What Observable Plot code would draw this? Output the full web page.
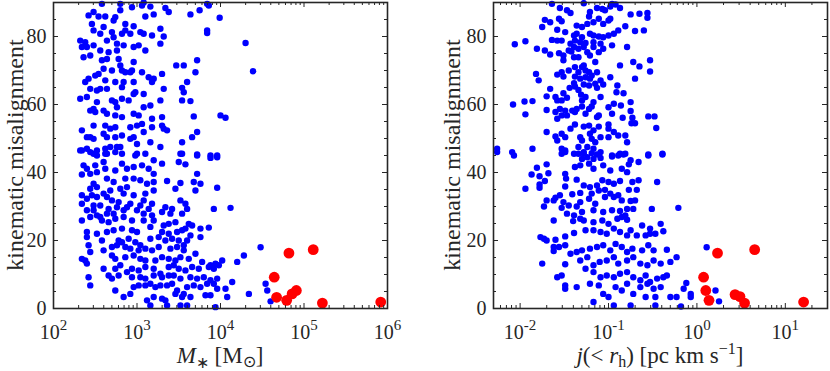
<!DOCTYPE html>
<html><head><meta charset="utf-8">
<script src="https://cdn.jsdelivr.net/npm/d3@7"></script>
<script src="https://cdn.jsdelivr.net/npm/@observablehq/plot@0.6"></script>
<style>
html,body{margin:0;padding:0;background:#fff;}
#wrap{position:relative;width:830px;height:371px;overflow:hidden;background:#fff;}
#wrap svg{position:absolute;top:0;}
</style></head><body><div id="wrap"></div>
<script>
// Left panel blue points: [log10(M* / Msun), kinematic misalignment (deg)]
const massBlue = [
[2.58,89.6],[2.80,89.6],[2.94,88.6],[3.06,89.1],[3.08,90],[3.16,88.8],[3.34,88.4],[3.38,87.2],[3.64,86.5],[3.75,87.7],[3.84,89.6],[3.86,89.1],[3.99,85.5],[2.48,87.2],[2.42,86.2],[2.54,85.9],[2.62,85.9],[2.74,85.7],[2.72,84.7],[2.80,87.7],[3.10,85.9],[3.20,86.5],[2.86,83.7],[2.96,83.0],[2.86,81.8],[2.82,80.8],[2.92,80.8],[3.04,81.3],[3.08,80.8],[3.18,80.3],[3.28,82.3],[3.32,80.0],[3.28,77.9],[3.10,75.9],[3.02,77.4],[2.96,76.9],[2.84,77.4],[2.76,77.9],[2.64,78.8],[2.56,80.8],[2.48,81.8],[2.46,83.7],[2.60,82.8],[2.70,81.3],[2.72,79.8],[2.32,78.8],[2.38,78.3],[2.34,76.9],[2.40,76.9],[2.48,77.4],[2.56,75.9],[2.66,75.4],[2.76,75.9],[2.44,74.4],[2.36,73.9],[2.58,73.0],[2.64,73.4],[2.78,73.4],[2.80,71.5],[2.96,72.5],[2.82,70.0],[2.70,70.0],[2.60,70.5],[2.54,69.0],[2.50,68.5],[2.42,67.6],[2.38,66.6],[2.62,67.1],[2.74,66.6],[2.86,69.5],[2.92,69.5],[2.94,70.0],[3.06,69.5],[3.14,68.0],[3.20,67.6],[3.18,66.6],[3.30,69.0],[2.84,66.6],[2.96,66.6],[2.82,65.1],[2.64,64.6],[2.56,64.6],[2.52,64.1],[2.44,64.6],[2.98,63.6],[3.08,63.1],[3.32,64.6],[2.96,63.1],[2.70,61.2],[2.74,60.7],[2.82,61.7],[2.90,61.2],[2.32,61.7],[2.40,62.2],[2.52,60.7],[2.48,58.7],[2.44,58.2],[2.50,57.8],[2.60,58.2],[2.64,57.3],[2.76,59.2],[2.74,56.8],[2.82,56.3],[2.96,57.3],[3.02,56.8],[3.08,59.2],[3.16,59.7],[3.28,61.2],[3.18,55.8],[3.06,54.3],[3.00,53.8],[2.92,53.3],[2.74,53.3],[2.68,52.9],[2.62,53.8],[2.48,53.8],[2.34,52.4],[2.40,50.4],[2.44,50.4],[2.48,49.9],[2.60,51.4],[2.64,50.4],[2.74,50.4],[2.82,50.9],[2.92,49.9],[2.96,50.4],[3.08,51.9],[3.18,53.3],[3.30,53.8],[3.32,52.9],[3.36,52.4],[3.30,56.3],[3.16,48.9],[3.00,48.4],[2.80,47.5],[2.76,47.5],[2.68,47.5],[2.62,47.0],[2.52,46.5],[2.40,47.0],[2.32,46.5],[3.28,47.5],[3.47,71.5],[3.56,71.5],[3.72,73.0],[3.70,69.5],[3.60,66.6],[3.54,64.9],[3.56,63.6],[3.54,61.2],[3.64,61.0],[3.68,56.5],[4.00,56.8],[4.06,56.1],[3.54,48.9],[3.66,50.4],[3.72,51.9],[4.30,78.1],[4.39,69.8],[3.84,81.8],[3.84,81.0],[3.54,45.5],[3.72,45.3],[3.88,45.0],[3.96,45.0],[3.00,45.5],[2.48,45.5],[2.62,45.5],
[2.34,46.5],[2.44,46.0],[2.52,45.0],[2.64,45.5],[2.74,46.0],[2.82,45.5],[2.98,45.0],[3.10,45.5],[3.20,43.6],[3.30,42.6],[3.52,45.5],[3.50,43.1],[3.58,42.4],[3.72,45.0],[3.88,44.3],[3.96,44.5],[2.36,42.1],[2.40,41.1],[2.50,42.1],[2.60,43.1],[2.52,40.1],[2.44,39.6],[2.62,41.1],[2.74,40.6],[2.82,42.6],[2.88,41.1],[2.96,41.6],[3.06,42.1],[3.14,41.1],[3.20,39.6],[2.34,39.4],[2.64,38.2],[2.72,37.2],[2.86,38.2],[2.96,38.2],[3.04,37.7],[3.12,36.7],[3.20,37.2],[3.36,37.5],[3.46,35.2],[3.52,36.9],[3.68,37.2],[3.76,36.7],[3.72,39.6],[3.70,34.7],[3.96,35.5],[2.48,36.7],[2.44,35.2],[2.52,35.7],[2.60,33.8],[2.68,34.7],[2.80,35.2],[2.88,35.7],[2.84,33.8],[2.78,31.3],[2.96,33.3],[3.10,33.8],[3.20,34.7],[3.18,30.8],[3.08,31.8],[2.34,33.3],[2.40,32.3],[2.46,33.3],[2.52,32.8],[2.64,32.8],[2.70,31.8],[2.34,30.8],[2.48,30.3],[2.56,30.3],[2.66,29.3],[2.76,29.8],[2.88,29.8],[2.92,30.8],[3.04,30.3],[3.14,29.3],[3.34,29.8],[3.42,29.3],[3.52,31.8],[3.58,30.8],[3.60,29.3],[3.92,29.3],[4.12,29.6],[2.40,28.9],[2.48,28.9],[2.52,27.4],[2.44,26.9],[2.56,26.9],[2.64,27.9],[2.72,27.9],[2.84,28.9],[3.00,28.9],[3.08,27.9],[3.18,27.4],[3.30,28.4],[3.40,27.9],[3.54,27.9],[2.34,25.9],[2.58,25.9],[2.66,25.4],[2.74,26.4],[2.84,26.9],[2.94,25.9],[3.08,25.9],[3.20,25.9],[3.32,24.4],[3.38,24.9],[3.46,25.4],[3.62,24.9],[3.66,24.4],[3.58,23.5],[3.76,23.5],[3.86,23.8],[2.40,22.5],[2.52,22.0],[2.64,22.5],[2.72,23.0],[2.82,23.5],[2.94,23.0],[3.00,22.5],[3.16,24.0],[3.30,22.5],[3.38,22.0],[3.48,22.5],[3.54,23.0],[3.64,21.5],[3.76,21.0],[2.40,21.0],[2.58,20.0],[2.78,20.0],[2.82,19.5],[2.90,20.5],[2.98,19.5],[3.04,18.6],[3.16,20.5],[3.26,21.0],[3.34,20.0],[3.42,20.5],[3.50,20.0],[3.56,18.6],[3.60,20.0],[2.42,18.6],[2.60,17.1],[2.70,18.1],[2.76,18.6],[2.86,18.1],[2.92,17.6],[3.02,17.1],[3.10,17.6],[3.18,17.1],[3.26,18.1],[3.40,17.6],[3.48,18.1],[3.56,17.1],[3.70,16.1],[2.44,16.6],[2.34,14.6],[2.38,14.1],[2.70,15.6],[2.74,14.6],[2.86,15.1],[2.96,15.6],[3.04,14.6],[3.10,14.1],[3.22,14.1],[3.30,15.1],[3.38,14.6],[3.46,14.1],[3.52,15.1],[3.62,14.6],[3.78,13.7],[3.88,12.7],[3.94,13.2],[4.02,14.1],[4.20,13.7],[4.28,15.6],[2.40,13.2],[2.60,11.7],[2.66,9.7],[2.74,11.7],[2.80,12.7],[2.88,10.7],[2.94,11.7],[3.02,11.2],[3.10,12.2],[3.20,11.7],[3.28,10.2],[3.38,12.2],[3.44,12.7],[3.50,11.7],[3.58,11.2],[3.66,12.2],[3.74,11.7],[3.86,12.2],[3.92,11.7],[3.98,12.7],[2.42,9.2],[2.44,6.8],[2.70,8.8],[2.78,9.7],[2.94,9.2],[3.04,9.2],[3.10,8.8],[3.20,9.7],[3.30,9.2],[3.38,9.7],[3.44,9.7],[3.52,8.8],[3.64,9.2],[3.72,8.8],[3.80,9.2],[3.88,8.3],[3.96,8.8],[4.14,7.8],[2.74,5.3],[2.84,3.4],[2.92,4.3],[2.96,6.3],[3.02,6.8],[3.10,6.8],[3.16,7.3],[3.22,6.3],[3.28,6.8],[3.36,6.8],[3.42,7.3],[3.48,5.3],[3.56,4.3],[3.60,6.3],[3.68,6.8],[3.76,6.3],[3.84,7.3],[3.92,7.3],[3.96,5.8],[4.06,5.8],[3.46,4.3],[3.54,3.4],[3.64,3.4],[3.82,3.9],[3.88,3.9],[4.08,3.4],[3.12,2.4],[3.20,3.4],[3.34,2.4],[3.36,0.9],[3.52,0.9],[3.60,0.9],[3.94,0.4],[3.16,0.9],[4.34,4.3],[3.30,2.9],
[4.48,18.0],[4.54,7.3],[4.56,5.3],[4.60,2.1]
];
// Left panel red points: [M* (Msun), misalignment (deg)]
const massRed = [[4.4e4,9.2],[4.7e4,3.3],[6.2e4,2.4],[6.6e4,16.3],[7.2e4,4.3],[8.1e4,5.3],[1.29e5,17.3],[1.66e5,1.6],[8.3e5,1.9]];

// Right panel blue points: [log10(j / pc km s^-1), misalignment (deg)]
const jBlue = [
[-1.64,89.6],[-1.55,88.4],[-1.47,87.7],[-1.43,86.9],[-1.28,89.8],[-1.21,87.2],[-1.22,85.9],[-1.13,88.4],[-1.07,88.1],[-1.04,87.7],[-0.98,88.8],[-0.96,89.6],[-0.92,89.4],[-0.87,88.4],[-0.75,86.5],[-0.65,86.7],[-0.56,86.9],[-0.56,85.5],[-1.72,84.9],[-1.66,84.2],[-1.56,85.2],[-1.53,84.5],[-1.75,82.8],[-1.58,82.0],[-1.49,81.3],[-1.36,83.2],[-1.30,82.8],[-1.24,83.7],[-1.17,84.2],[-1.11,85.2],[-1.06,83.7],[-1.00,84.7],[-0.98,85.2],[-0.81,83.0],[-0.70,81.6],[-0.60,81.8],[-1.36,80.8],[-1.30,79.8],[-1.21,80.8],[-1.17,80.3],[-1.11,80.0],[-1.06,79.8],[-1.00,80.3],[-0.94,80.8],[-0.89,81.8],[-1.39,80.3],[-1.64,79.0],[-1.58,78.8],[-1.53,78.8],[-1.43,77.9],[-1.38,78.8],[-1.32,78.3],[-1.26,78.1],[-1.17,78.3],[-1.09,77.9],[-0.96,77.4],[-1.45,75.9],[-1.39,76.9],[-1.34,76.4],[-1.28,76.9],[-1.17,76.9],[-1.06,76.4],[-1.11,75.4],[-1.21,74.4],[-1.15,72.5],[-1.81,76.4],[-1.72,75.9],[-1.66,74.7],[-1.56,75.1],[-1.51,74.4],[-1.51,73.0],[-1.42,75.6],[-1.39,73.9],[-1.34,73.9],[-1.24,75.4],[-0.79,76.9],[-2.06,77.7],[-1.94,78.6],[-0.87,71.5],[-0.72,72.5],[-0.65,71.2],[-0.53,73.0],[-0.53,69.7],[-0.70,67.6],[-1.82,69.0],[-1.79,67.1],[-1.58,68.8],[-1.53,69.5],[-1.51,68.2],[-1.45,70.0],[-1.38,71.0],[-1.34,69.5],[-1.30,71.0],[-1.28,71.5],[-1.26,70.0],[-1.22,69.5],[-1.19,68.5],[-1.13,69.5],[-1.38,68.2],[-1.32,67.6],[-1.26,68.0],[-1.21,67.6],[-1.09,67.1],[-0.98,68.0],[-1.39,66.3],[-1.44,64.9],[-1.38,65.3],[-1.34,64.3],[-1.28,65.9],[-1.22,65.6],[-1.15,66.1],[-1.13,64.9],[-1.06,65.9],[-0.90,65.6],[-0.91,63.6],[-0.83,63.3],[-1.66,64.6],[-1.51,63.3],[-1.31,62.9],[-1.26,62.2],[-1.30,61.2],[-1.60,62.2],[-1.58,61.2],[-1.70,62.4],[-1.53,61.2],[-1.47,62.0],[-1.09,62.2],[-1.17,60.7],[-1.30,59.4],[-1.36,58.7],[-1.41,58.2],[-1.49,58.2],[-1.55,58.7],[-1.60,57.8],[-1.58,55.8],[-1.53,56.8],[-1.47,56.8],[-1.38,57.8],[-1.26,57.3],[-1.22,58.7],[-1.19,59.4],[-1.00,59.2],[-0.94,60.2],[-0.86,59.7],[-0.75,60.7],[-0.96,57.3],[-1.11,56.8],[-1.13,56.3],[-0.75,58.1],[-0.84,56.1],[-0.73,56.1],[-0.74,54.5],[-0.70,54.5],[-0.55,56.5],[-0.48,56.5],[-0.46,53.1],[-2.08,60.0],[-1.95,60.9],[-1.86,61.0],[-1.94,57.1],[-1.70,58.4],[-1.38,54.1],[-1.28,53.5],[-1.22,53.8],[-1.11,53.5],[-1.17,52.4],[-1.00,54.1],[-1.00,52.9],[-0.94,51.9],[-0.89,50.9],[-0.81,50.9],[-0.79,48.9],[-1.70,51.9],[-1.60,50.6],[-1.58,49.4],[-1.53,51.4],[-1.49,50.4],[-1.43,52.9],[-1.32,50.4],[-1.30,49.4],[-1.21,51.4],[-1.19,49.9],[-1.15,48.9],[-1.09,50.4],[-1.00,50.4],[-1.24,47.5],[-1.34,47.5],[-1.17,47.0],[-1.09,46.0],[-1.53,47.0],[-1.49,46.0],[-2.26,47.0],[-2.09,46.0],[-1.86,47.0],[-0.87,45.5],[-0.81,45.5],[-0.55,45.3],[-0.39,45.5],[-0.96,45.0],[-1.28,45.5],[-1.39,45.5],
[-2.26,46.0],[-2.07,45.0],[-1.53,45.5],[-1.49,46.5],[-1.34,45.5],[-1.28,46.0],[-1.19,45.7],[-1.13,45.3],[-1.30,44.0],[-1.24,44.5],[-1.17,44.0],[-1.09,44.3],[-0.96,44.7],[-0.89,45.0],[-0.83,45.3],[-0.75,43.6],[-0.66,43.1],[-0.55,45.0],[-0.39,45.3],[-1.81,41.4],[-1.70,42.4],[-1.87,39.4],[-1.78,38.9],[-1.68,39.8],[-1.49,39.6],[-1.48,38.2],[-1.38,41.6],[-1.32,42.1],[-1.22,42.6],[-1.17,41.1],[-1.06,42.1],[-0.98,40.6],[-0.85,41.1],[-0.79,40.1],[-0.77,42.4],[-1.72,37.5],[-1.78,36.5],[-1.78,35.5],[-1.94,35.2],[-1.49,35.9],[-1.36,37.9],[-1.28,36.2],[-1.21,35.7],[-1.13,36.2],[-1.07,37.7],[-1.00,37.2],[-0.94,36.7],[-0.87,37.5],[-0.73,37.2],[-0.66,37.7],[-0.45,37.2],[-0.77,34.9],[-0.68,34.9],[-1.70,31.8],[-1.62,31.8],[-1.60,32.6],[-1.55,33.3],[-1.51,31.3],[-1.41,33.6],[-1.32,34.0],[-1.19,33.8],[-1.11,34.7],[-1.04,34.9],[-0.98,33.8],[-0.89,33.3],[-1.73,30.0],[-1.53,29.6],[-1.45,30.3],[-1.36,30.0],[-1.32,31.3],[-1.22,32.3],[-1.15,30.8],[-1.04,32.8],[-0.94,32.8],[-0.85,31.8],[-0.75,31.6],[-0.70,31.8],[-0.79,29.3],[-0.72,29.3],[-0.51,29.3],[-0.21,29.6],[-1.47,27.9],[-1.39,27.4],[-1.30,28.4],[-1.17,28.9],[-1.06,28.4],[-0.96,28.9],[-0.87,28.7],[-0.81,27.4],[-1.62,25.9],[-1.40,25.7],[-1.32,26.4],[-1.28,25.9],[-1.17,25.4],[-1.07,25.9],[-1.00,24.9],[-0.90,26.4],[-0.85,26.9],[-0.79,26.1],[-0.62,24.4],[-0.53,23.5],[-0.41,24.9],[-1.77,21.0],[-1.73,20.5],[-1.70,20.0],[-1.60,20.2],[-1.49,21.2],[-1.39,22.2],[-1.26,23.0],[-1.17,23.0],[-1.09,22.5],[-1.02,22.0],[-0.94,23.5],[-0.87,22.5],[-0.79,21.5],[-0.75,23.0],[-0.68,21.5],[-0.58,21.5],[-0.53,22.0],[-0.47,22.0],[-1.62,18.1],[-1.62,16.9],[-1.56,18.1],[-1.49,18.6],[-1.43,16.1],[-1.36,16.6],[-1.30,17.1],[-1.21,17.6],[-1.13,18.1],[-1.06,18.6],[-0.98,17.1],[-0.92,19.0],[-0.85,18.1],[-0.79,16.6],[-0.73,17.6],[-0.62,17.1],[-0.55,18.6],[-0.49,17.1],[-0.34,17.3],[-1.75,13.2],[-1.49,13.0],[-1.32,14.1],[-1.24,15.1],[-1.17,12.7],[-1.10,13.7],[-1.02,14.1],[-0.94,15.1],[-0.89,13.2],[-0.79,14.1],[-0.72,15.1],[-0.64,13.2],[-0.56,12.7],[-0.49,14.1],[-0.41,13.2],[-0.30,13.7],[-0.23,15.1],[-1.58,9.2],[-1.53,9.7],[-1.49,6.8],[-1.49,5.8],[-1.36,6.3],[-1.26,11.7],[-1.17,10.7],[-1.09,9.2],[-1.02,9.7],[-0.94,9.2],[-0.87,10.2],[-0.79,10.7],[-0.72,9.2],[-0.64,8.3],[-0.58,9.7],[-0.53,7.8],[-0.45,8.8],[-0.38,9.2],[-0.34,9.7],[-1.21,7.3],[-1.11,6.8],[-1.06,4.3],[-1.00,3.4],[-0.92,6.3],[-0.85,5.3],[-0.79,7.3],[-0.72,4.3],[-0.64,6.3],[-0.56,7.3],[-0.49,5.8],[-0.41,6.3],[-0.30,3.4],[-0.23,3.4],[-0.15,5.8],[-0.12,7.5],[-0.07,4.3],[-1.17,1.9],[-0.94,0.9],[-0.75,0.9],[-0.58,3.4],[-0.47,3.4],[-0.47,0.9],[-0.18,0.6],[-0.07,3.4],
[0.11,18.0],[0.21,5.3],[0.25,2.1],[-0.38,22.7]
];
// Right panel red points: [j (pc km s^-1), misalignment (deg)]
const jRed = [[1.19,9.2],[1.26,5.3],[1.37,2.4],[1.71,16.3],[2.7,4.1],[3.07,3.5],[3.46,1.6],[4.5,17.3],[16.1,1.9]];

// Axis settings
const massDomain = [1e2, 1e6];
const jDomain = [0.005, 30];
const massDecades = [1e2, 1e3, 1e4, 1e5, 1e6];
const jDecades = [1e-2, 1e-1, 1e0, 1e1];
const yTickLabels = [0, 20, 40, 60, 80];
const yLabelText = "kinematic misalignment";

const FONT = "Liberation Serif, Times New Roman, serif";
const INK = "#262626";

function minorTicks(domain) {
  const out = [];
  for (let e = Math.floor(Math.log10(domain[0])); e <= Math.ceil(Math.log10(domain[1])); e++) {
    for (let k = 2; k <= 9; k++) {
      const v = k * Math.pow(10, e);
      if (v > domain[0] * 1.001 && v < domain[1] * 0.999) out.push(v);
    }
  }
  return out;
}

function makePanel(cfg) {
  const W = 415, H = 371, mt = 2, mb = 63;
  const iw = W - cfg.mL - cfg.mR, ih = H - mt - mb;
  const yMinor = d3.range(0, 91, 5).filter(v => !yTickLabels.includes(v));
  const xMinor = minorTicks(cfg.domain);
  const majors = cfg.decades.filter(v => v >= cfg.domain[0] && v <= cfg.domain[1]);
  const plot = Plot.plot({
    width: W, height: H,
    marginLeft: cfg.mL, marginRight: cfg.mR, marginTop: mt, marginBottom: mb,
    style: {fontFamily: FONT, fontSize: "20px", color: INK, background: "transparent", overflow: "visible"},
    x: {type: "log", domain: cfg.domain},
    y: {domain: [0, 90]},
    marks: [
      Plot.dot(cfg.blue, {x: d => Math.pow(10, d[0]), y: d => d[1], r: 3.2, fill: "#0000ff", stroke: null}),
      Plot.dot(cfg.red, {x: d => d[0], y: d => d[1], r: 5.4, fill: "#ff0000", stroke: null}),
      Plot.ruleX(majors, {stroke: INK, insetTop: ih - 5}),
      Plot.ruleX(majors, {stroke: INK, insetBottom: ih - 5}),
      Plot.ruleX(xMinor, {stroke: INK, insetTop: ih - 3}),
      Plot.ruleX(xMinor, {stroke: INK, insetBottom: ih - 3}),
      Plot.ruleY(yTickLabels, {stroke: INK, insetRight: iw - 5}),
      Plot.ruleY(yTickLabels, {stroke: INK, insetLeft: iw - 5}),
      Plot.ruleY(yMinor, {stroke: INK, insetRight: iw - 3}),
      Plot.ruleY(yMinor, {stroke: INK, insetLeft: iw - 3}),
      Plot.axisX({ticks: majors, tickSize: 0, tickPadding: 16, label: null, fontSize: 20,
        tickFormat: d => "10^" + Math.round(Math.log10(d))}),
      Plot.axisY({ticks: yTickLabels, tickSize: 0, tickPadding: 7, label: null, fontSize: 20, tickFormat: d => String(d)}),
      Plot.frame({stroke: INK, strokeWidth: 1.6})
    ]
  });
  plot.style.left = cfg.left + "px";
  document.getElementById("wrap").appendChild(plot);
  const svg = d3.select(plot);
  // superscript exponents on decade tick labels
  svg.selectAll("text").each(function() {
    const s = this.textContent;
    const m = /^10\^(-?\d+)$/.exec(s);
    if (!m) return;
    const t = d3.select(this);
    t.text(null);
    t.append("tspan").text("10");
    t.append("tspan").attr("dy", -9).attr("font-size", 15).text(m[1]);
  });
  // y label
  const cy = mt + ih / 2;
  svg.append("text")
    .attr("transform", `translate(${cfg.yLabelX},${cy}) rotate(-90)`)
    .attr("text-anchor", "middle")
    .attr("font-family", FONT).attr("font-size", 24).attr("fill", INK)
    .text(yLabelText);
  // x label
  const xl = svg.append("text")
    .attr("x", cfg.mL + iw / 2).attr("y", 363)
    .attr("text-anchor", "middle")
    .attr("font-family", FONT).attr("font-size", 23).attr("fill", INK);
  cfg.xLabel(xl);
  return plot;
}

makePanel({
  left: 0, mL: 53, mR: 28, domain: massDomain, decades: massDecades,
  blue: massBlue, red: massRed, yLabelX: 23,
  xLabel: t => {
    t.append("tspan").attr("font-style", "italic").text("M");
    t.append("tspan").attr("font-size", 16).attr("dy", 5).text("∗");
    t.append("tspan").attr("dy", -5).text(" [M");
    t.append("tspan").attr("font-size", 16).attr("dy", 4).text("⊙");
    t.append("tspan").attr("dy", -4).text("]");
  }
});

makePanel({
  left: 415, mL: 78, mR: 3, domain: jDomain, decades: jDecades,
  blue: jBlue, red: jRed, yLabelX: 45,
  xLabel: t => {
    t.append("tspan").attr("font-style", "italic").text("j");
    t.append("tspan").text("(< ");
    t.append("tspan").attr("font-style", "italic").text("r");
    t.append("tspan").attr("font-size", 16).attr("dy", 4).text("h");
    t.append("tspan").attr("dy", -4).text(") [pc km s");
    t.append("tspan").attr("font-size", 16).attr("dy", -9).text("−1");
    t.append("tspan").attr("dy", 9).text("]");
  }
});
</script>
</body></html>
